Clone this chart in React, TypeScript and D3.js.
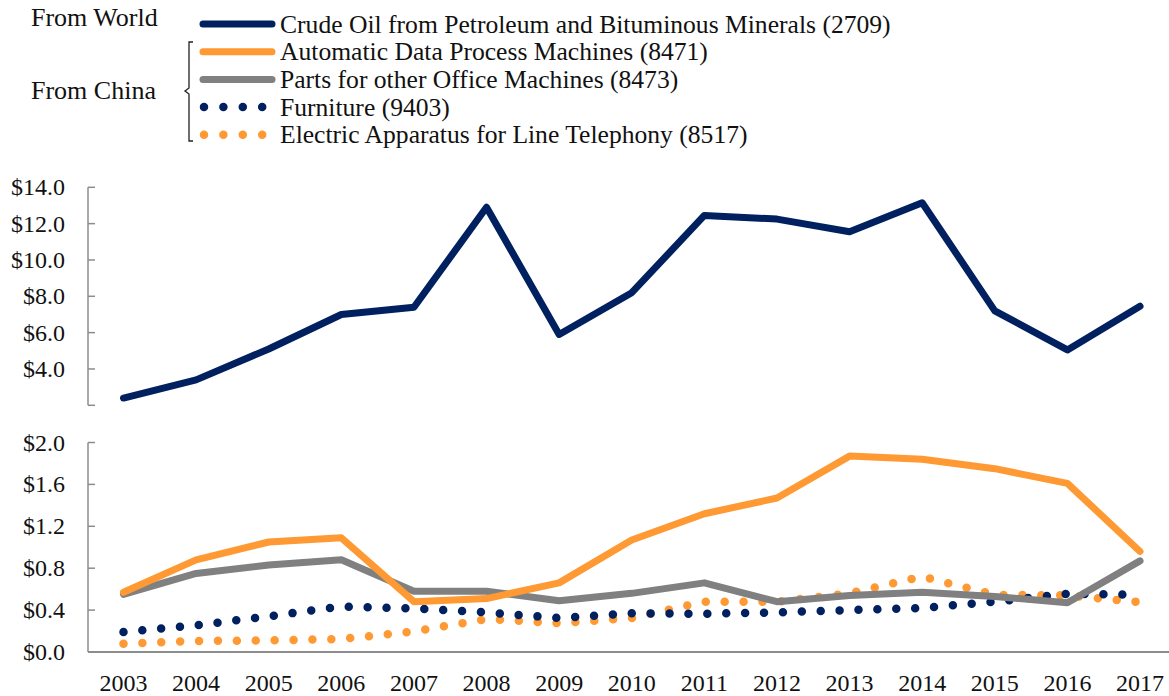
import React from "react";
import * as d3 from "d3";

const years = [2003, 2004, 2005, 2006, 2007, 2008, 2009, 2010, 2011, 2012, 2013, 2014, 2015, 2016, 2017];
const crudeOil = [2.4, 3.4, 5.1, 7.0, 7.4, 12.9, 5.9, 8.2, 12.45, 12.25, 11.55, 13.15, 7.2, 5.05, 7.45];
const adpMachines = [0.57, 0.88, 1.05, 1.09, 0.48, 0.51, 0.66, 1.07, 1.32, 1.47, 1.87, 1.84, 1.75, 1.61, 0.96];
const officeParts = [0.55, 0.75, 0.83, 0.88, 0.58, 0.58, 0.49, 0.56, 0.66, 0.48, 0.54, 0.57, 0.53, 0.47, 0.87];
const furniture = [0.19, 0.255, 0.34, 0.435, 0.415, 0.378, 0.324, 0.37, 0.365, 0.378, 0.4, 0.42, 0.48, 0.556, 0.546];
const telephony = [0.079, 0.105, 0.11, 0.124, 0.196, 0.315, 0.276, 0.324, 0.48, 0.48, 0.56, 0.72, 0.546, 0.54, 0.477];

const topTicks = [2, 4, 6, 8, 10, 12, 14];
const bottomTicks = [0, 0.4, 0.8, 1.2, 1.6, 2.0];

const NAVY = "#002060";
const ORANGE = "#FF9933";
const GRAY = "#808080";
const AXIS = "#8c8c8c";
const FONT = "'Liberation Serif', 'Times New Roman', serif";

const legendItems = [
  { label: "Crude Oil from Petroleum and Bituminous Minerals (2709)", color: NAVY, dotted: false },
  { label: "Automatic Data Process Machines (8471)", color: ORANGE, dotted: false },
  { label: "Parts for other Office Machines (8473)", color: GRAY, dotted: false },
  { label: "Furniture (9403)", color: NAVY, dotted: true },
  { label: "Electric Apparatus for Line Telephony (8517)", color: ORANGE, dotted: true },
];

export default function App() {
  const W = 1169, H = 696;
  const axisX = 88;
  const x = d3.scaleLinear().domain([2003, 2017]).range([123.5, 1140]);
  const yTop = d3.scaleLinear().domain([2, 14]).range([405.3, 187.3]);
  const yBot = d3.scaleLinear().domain([0, 2]).range([652, 442.5]);

  const lineTop = d3.line<number>().x((_, i) => x(years[i])).y((d) => yTop(d));
  const lineBot = d3.line<number>().x((_, i) => x(years[i])).y((d) => yBot(d));

  const solid = (d: string | null, color: string) => (
    <path d={d || ""} fill="none" stroke={color} strokeWidth={7} strokeLinecap="round" strokeLinejoin="round" />
  );
  const dotted = (d: string | null, color: string) => (
    <path d={d || ""} fill="none" stroke={color} strokeWidth={8.5} strokeLinecap="round" strokeDasharray="0 18.9" />
  );

  const legendY = (i: number) => 24 + i * 27.7;

  return (
    <svg width={W} height={H} style={{ position: "absolute", left: 0, top: 0, background: "#fff" }} fontFamily={FONT}>
      {/* Legend */}
      <text x={31} y={26} fontSize={26} fill="#111">From World</text>
      <text x={31} y={99} fontSize={26} fill="#111">From China</text>
      <path d="M193,42 L189,42 L189,88 L185,91 L189,94 L189,141 L193,141" fill="none" stroke="#222" strokeWidth={1.3} />
      {legendItems.map((it, i) => (
        <g key={it.label}>
          {it.dotted ? (
            <path d={`M204,${legendY(i)} L263,${legendY(i)}`} stroke={it.color} strokeWidth={8.5} strokeLinecap="round" strokeDasharray="0 19.4" fill="none" />
          ) : (
            <path d={`M203,${legendY(i)} L272,${legendY(i)}`} stroke={it.color} strokeWidth={7} strokeLinecap="round" fill="none" />
          )}
          <text x={280} y={legendY(i) + 8.5} fontSize={25.6} fill="#111">{it.label}</text>
        </g>
      ))}

      {/* Top panel axis */}
      <line x1={axisX} x2={axisX} y1={yTop(14)} y2={yTop(2)} stroke={AXIS} strokeWidth={1.5} />
      {topTicks.map((t) => (
        <g key={"tt" + t}>
          <line x1={axisX} x2={axisX + 7} y1={yTop(t)} y2={yTop(t)} stroke={AXIS} strokeWidth={1.5} />
          {t !== 2 && (
            <text x={65} y={yTop(t) + 8} fontSize={24} textAnchor="end" fill="#111">
              {"$" + t.toFixed(1)}
            </text>
          )}
        </g>
      ))}

      {/* Bottom panel axis */}
      <line x1={axisX} x2={axisX} y1={yBot(2)} y2={yBot(0)} stroke={AXIS} strokeWidth={1.5} />
      <line x1={axisX} x2={W} y1={yBot(0)} y2={yBot(0)} stroke={AXIS} strokeWidth={2} />
      {bottomTicks.map((t) => (
        <g key={"bt" + t}>
          <line x1={axisX} x2={axisX + 7} y1={yBot(t)} y2={yBot(t)} stroke={AXIS} strokeWidth={1.5} />
          <text x={65} y={yBot(t) + 8} fontSize={24} textAnchor="end" fill="#111">
            {"$" + t.toFixed(1)}
          </text>
        </g>
      ))}
      {years.map((yr) => (
        <text key={yr} x={x(yr)} y={691} fontSize={24} textAnchor="middle" fill="#111">{yr}</text>
      ))}

      {/* Series */}
      {solid(lineTop(crudeOil), NAVY)}
      {dotted(lineBot(telephony), ORANGE)}
      {dotted(lineBot(furniture), NAVY)}
      {solid(lineBot(officeParts), GRAY)}
      {solid(lineBot(adpMachines), ORANGE)}
    </svg>
  );
}
